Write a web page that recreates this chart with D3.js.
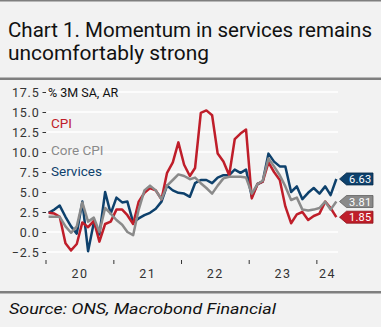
<!DOCTYPE html>
<html>
<head>
<meta charset="utf-8">
<script src="https://cdn.jsdelivr.net/npm/d3@7"></script>
<style>
  body { margin: 0; background: #f2f2f2; }
  svg { display: block; font-family: Roboto, "Noto Sans", sans-serif; }
</style>
</head>
<body>
<div id="chartContainer"></div>
<script>
// ----- Chart data (monthly, Jan 2020 .. Apr 2024)
const startMonth = new Date(2020, 0, 15);
const cpi = [2.4, 2.3, 1.9, -1.4, -2.3, -1.5, 1.2, 0.6, 1.4, -1.2, 1.0, 1.3,
             2.8, 2.8, 2.1, 1.0, 3.8, 4.9, 5.5, 5.2, 4.1, 7.4, 8.7, 11.2,
             8.4, 7.0, 8.0, 14.9, 15.2, 14.6, 9.8, 8.8, 7.1, 11.6, 12.3, 12.8,
             4.2, 6.0, 6.3, 8.7, 7.5, 6.5, 3.2, 1.1, 2.2, 2.5, 1.5, 2.0,
             2.3, 3.8, 3.0, 1.85];
const coreCpi = [1.9, 1.9, 1.9, 0.7, -0.1, 0.7, 3.7, 1.3, 1.8, 0.0, 3.0, 2.3,
                 1.5, 0.9, 0.0, -0.4, 2.8, 5.2, 5.8, 5.2, 4.1, 5.8, 6.5, 7.2,
                 7.0, 6.6, 6.8, 6.1, 5.5, 4.8, 5.8, 6.7, 6.9, 6.9, 6.9, 6.8,
                 4.8, 6.0, 6.4, 9.2, 8.2, 7.1, 5.7, 4.0, 4.3, 2.8, 2.7, 2.8,
                 3.0, 3.8, 2.8, 3.81];
const services = [2.4, 2.8, 3.3, 1.9, 0.7, -0.2, 3.8, -2.4, 1.2, -0.3, 5.0, 2.3,
                  4.3, 3.7, 3.8, 1.2, 1.7, 2.1, 2.4, 2.9, 3.8, 5.8, 5.2, 4.9,
                  4.8, 4.4, 6.1, 6.5, 6.5, 6.1, 6.8, 7.1, 7.1, 7.8, 7.4, 7.8,
                  4.4, 6.0, 6.3, 9.8, 8.8, 8.2, 8.2, 5.0, 5.7, 4.1, 4.9, 5.5,
                  4.8, 5.7, 4.6, 6.63];

const seriesNames = ["Services", "CPI", "Core CPI"];
const yTicks = [-2.5, 0, 2.5, 5, 7.5, 10, 12.5, 15, 17.5];
const yearTicks = [2020, 2021, 2022, 2023, 2024];
const yearLabels = ["20", "21", "22", "23", "24"];

const colors = {
  "CPI": "#bf1e2a",
  "Core CPI": "#8a8a8a",
  "Services": "#0e416c"
};
const labelBorder = {
  "CPI": "#8e1119",
  "Core CPI": "#5e5e5e",
  "Services": "#072a49"
};

const valuesByName = { "CPI": cpi, "Core CPI": coreCpi, "Services": services };

// ----- Geometry
const W = 381, H = 327;
const plot = { left: 46, right: 338, top: 86, bottom: 260 };

const svg = d3.select("#chartContainer")
  .append("svg")
  .attr("width", W)
  .attr("height", H);

svg.append("rect").attr("width", W).attr("height", H).attr("fill", "#f2f2f2");

// frame lines (top, under title, above source)
svg.append("rect").attr("x", 0).attr("y", 0).attr("width", W).attr("height", 1.5).attr("fill", "#7f7f7f");
svg.append("rect").attr("x", 0).attr("y", 77.5).attr("width", W).attr("height", 2.5).attr("fill", "#7f7f7f");
svg.append("rect").attr("x", 0).attr("y", 291).attr("width", W).attr("height", 2.5).attr("fill", "#7f7f7f");

// ----- Title + source
svg.append("text")
  .attr("x", 8).attr("y", 36.5)
  .attr("font-size", 19.5).attr("fill", "#111")
  .attr("textLength", 364).attr("lengthAdjust", "spacingAndGlyphs")
  .text("Chart 1. Momentum in services remains");
svg.append("text")
  .attr("x", 8).attr("y", 60)
  .attr("font-size", 19.5).attr("fill", "#111")
  .attr("textLength", 201).attr("lengthAdjust", "spacingAndGlyphs")
  .text("uncomfortably strong");

svg.append("text")
  .attr("x", 9).attr("y", 314)
  .attr("font-size", 14.5).attr("font-style", "italic").attr("fill", "#111")
  .attr("textLength", 267).attr("lengthAdjust", "spacingAndGlyphs")
  .text("Source: ONS, Macrobond Financial");

// ----- Scales
const endDate = new Date(2024, 3, 24);
const x = d3.scaleTime()
  .domain([new Date(2020, 0, 1), endDate])
  .range([plot.left, plot.right]);
const y = d3.scaleLinear()
  .domain([-3.5, 18.25])
  .range([plot.bottom, plot.top]);

const dates = cpi.map((_, i) => d3.timeMonth.offset(startMonth, i));

// gridlines
svg.append("g")
  .selectAll("line")
  .data(yTicks)
  .join("line")
    .attr("x1", plot.left + 1).attr("x2", plot.right)
    .attr("y1", d => y(d)).attr("y2", d => y(d))
    .attr("stroke", "#ffffff").attr("stroke-width", 1.5);

// y axis
const yAxis = d3.axisLeft(y)
  .tickValues(yTicks)
  .tickSize(3.5)
  .tickPadding(3)
  .tickFormat(d3.format(".1f"));
svg.append("g")
  .attr("transform", `translate(${plot.left},0)`)
  .call(yAxis)
  .call(g => g.select(".domain").remove())
  .call(g => g.selectAll(".tick line").attr("stroke", "#333"))
  .call(g => g.selectAll(".tick text")
    .attr("font-size", 12.5)
    .attr("fill", "#333")
    .attr("letter-spacing", 0.8)
    .attr("font-family", "Roboto, sans-serif"));

svg.append("text")
  .attr("x", 48).attr("y", 97)
  .attr("font-size", 12.5).attr("fill", "#111")
  .text("% 3M SA, AR");

// x axis: year ticks at Jan, labels centred in each year span
const yearStarts = yearTicks.map(yr => new Date(yr, 0, 1));
svg.append("g")
  .selectAll("line")
  .data(yearStarts)
  .join("line")
    .attr("x1", d => x(d)).attr("x2", d => x(d))
    .attr("y1", plot.bottom).attr("y2", plot.bottom + 4)
    .attr("stroke", "#333").attr("stroke-width", 1);

svg.append("g")
  .selectAll("text")
  .data(yearTicks)
  .join("text")
    .attr("x", (yr, i) => {
      const a = x(new Date(yr, 0, 1));
      const b = Math.min(x(new Date(yr + 1, 0, 1)), plot.right);
      return (a + b) / 2;
    })
    .attr("y", 277.5)
    .attr("text-anchor", "middle")
    .attr("font-size", 12.5)
    .attr("letter-spacing", 1.5)
    .attr("fill", "#333")
    .text((d, i) => yearLabels[i]);

// ----- Lines
const line = d3.line()
  .x((d, i) => x(dates[i]))
  .y(d => y(d));

seriesNames.forEach(name => {
  svg.append("path")
    .datum(valuesByName[name])
    .attr("fill", "none")
    .attr("stroke", colors[name])
    .attr("stroke-width", 2.5)
    .attr("stroke-linejoin", "round")
    .attr("d", line);
});

// legend texts inside plot
const legendRows = [
  { name: "CPI", y: 127.5 },
  { name: "Core CPI", y: 154.5 },
  { name: "Services", y: 176 }
];
svg.append("g")
  .selectAll("text")
  .data(legendRows)
  .join("text")
    .attr("x", 51).attr("y", d => d.y)
    .attr("font-size", 13.5)
    .attr("fill", d => colors[d.name])
    .text(d => d.name);

// ----- End-value labels
const tipX = 339.5, boxX = 346.5, boxW = 26.5, boxH = 12;
seriesNames.forEach(name => {
  const vals = valuesByName[name];
  const v = vals[vals.length - 1];
  const cy = y(v);
  const g = svg.append("g");
  g.append("path")
    .attr("d", `M${tipX},${cy} L${boxX},${cy - boxH / 2} L${boxX + boxW},${cy - boxH / 2} ` +
               `L${boxX + boxW},${cy + boxH / 2} L${boxX},${cy + boxH / 2} Z`)
    .attr("fill", colors[name])
    .attr("stroke", labelBorder[name])
    .attr("stroke-width", 0.8);
  g.append("text")
    .attr("x", boxX + boxW / 2 + 0.5).attr("y", cy + 4)
    .attr("text-anchor", "middle")
    .attr("font-size", 11)
    .attr("letter-spacing", 0.3)
    .attr("fill", "#ffffff")
    .text(v.toFixed(2));
});
</script>
</body>
</html>
